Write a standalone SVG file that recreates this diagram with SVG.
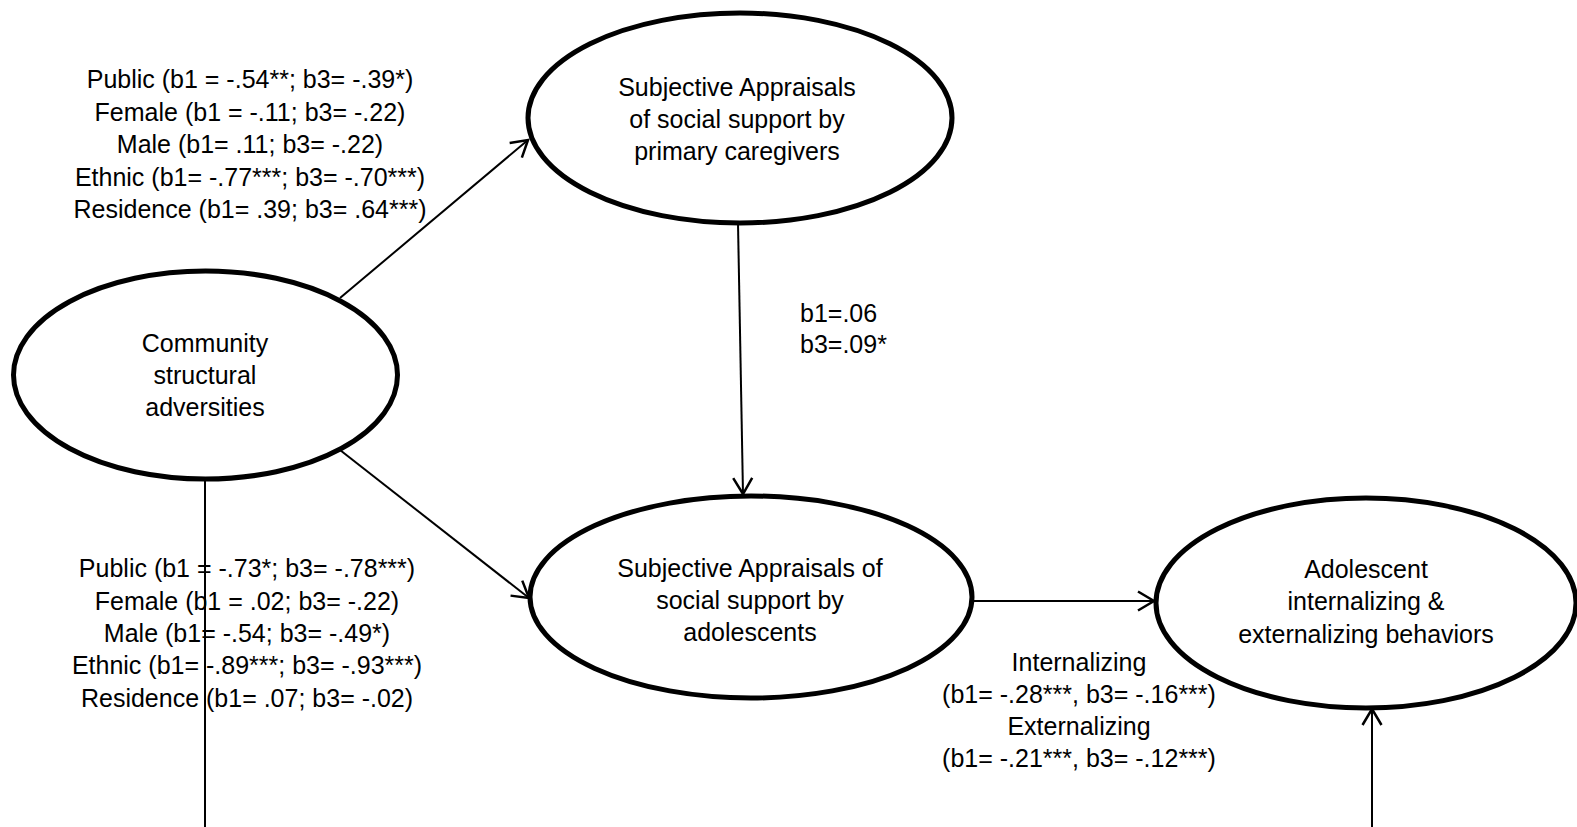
<svg xmlns="http://www.w3.org/2000/svg" width="1577" height="827" viewBox="0 0 1577 827">
  <style>
    .node { fill: #ffffff; stroke: #000000; stroke-width: 5; }
    .edge { fill: none; stroke: #000000; stroke-width: 2; }
    text { font-family: "Liberation Sans", Arial, sans-serif; font-size: 25px; fill: #000000; text-anchor: middle; }
    .left { text-anchor: start; }
  </style>
  <defs>
    <marker id="arrow" markerUnits="userSpaceOnUse" markerWidth="24" markerHeight="24" viewBox="-20 -12 24 24" refX="0" refY="0" orient="auto">
      <path d="M-16,-9.5 L0,0 L-16,9.5" fill="none" stroke="#000000" stroke-width="2.5"/>
    </marker>
  </defs>

  <rect width="1577" height="827" fill="#ffffff"/>

  <!-- connectors -->
  <g id="connectors">
    <line class="edge" x1="340" y1="298" x2="528" y2="140" marker-end="url(#arrow)"/>
    <line class="edge" x1="340" y1="450" x2="529" y2="598" marker-end="url(#arrow)"/>
    <line class="edge" x1="738" y1="223" x2="743" y2="494" marker-end="url(#arrow)"/>
    <line class="edge" x1="973" y1="601" x2="1154" y2="601" marker-end="url(#arrow)"/>
    <line class="edge" x1="205" y1="479" x2="205" y2="827"/>
    <line class="edge" x1="1372" y1="827" x2="1372" y2="709" marker-end="url(#arrow)"/>
  </g>

  <!-- path coefficient labels -->
  <g id="labels-caregivers">
    <text x="250" y="88">Public (b1 = -.54**; b3= -.39*)</text>
    <text x="250" y="120.5">Female (b1 = -.11; b3= -.22)</text>
    <text x="250" y="153">Male (b1= .11; b3= -.22)</text>
    <text x="250" y="185.5">Ethnic (b1= -.77***; b3= -.70***)</text>
    <text x="250" y="218">Residence (b1= .39; b3= .64***)</text>
  </g>
  <g id="labels-adolescents">
    <text x="247" y="577">Public (b1 = -.73*; b3= -.78***)</text>
    <text x="247" y="609.5">Female (b1 = .02; b3= -.22)</text>
    <text x="247" y="642">Male (b1= -.54; b3= -.49*)</text>
    <text x="247" y="674">Ethnic (b1= -.89***; b3= -.93***)</text>
    <text x="247" y="706.5">Residence (b1= .07; b3= -.02)</text>
  </g>
  <g id="labels-mediator">
    <text class="left" x="800" y="322">b1=.06</text>
    <text class="left" x="800" y="353">b3=.09*</text>
  </g>
  <g id="labels-outcome">
    <text x="1079" y="671">Internalizing</text>
    <text x="1079" y="703">(b1= -.28***, b3= -.16***)</text>
    <text x="1079" y="735">Externalizing</text>
    <text x="1079" y="767">(b1= -.21***, b3= -.12***)</text>
  </g>

  <!-- nodes -->
  <g id="community">
    <ellipse class="node" cx="205.5" cy="375" rx="192" ry="104"/>
    <text x="205" y="352">Community</text>
    <text x="205" y="384">structural</text>
    <text x="205" y="416">adversities</text>
  </g>
  <g id="caregivers">
    <ellipse class="node" cx="740" cy="118" rx="212" ry="105"/>
    <text x="737" y="96">Subjective Appraisals</text>
    <text x="737" y="128">of social support by</text>
    <text x="737" y="160">primary caregivers</text>
  </g>
  <g id="adolescents">
    <ellipse class="node" cx="751" cy="597" rx="221" ry="101"/>
    <text x="750" y="577">Subjective Appraisals of</text>
    <text x="750" y="609">social support by</text>
    <text x="750" y="641">adolescents</text>
  </g>
  <g id="behaviors">
    <ellipse class="node" cx="1366" cy="603" rx="210" ry="105"/>
    <text x="1366" y="578">Adolescent</text>
    <text x="1366" y="610">internalizing &amp;</text>
    <text x="1366" y="643">externalizing behaviors</text>
  </g>
</svg>
